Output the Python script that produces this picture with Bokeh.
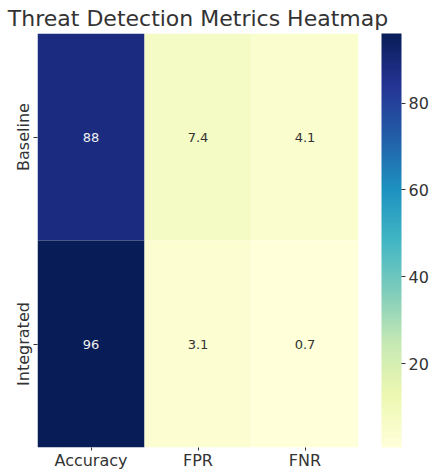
from bokeh.plotting import figure
from bokeh.models import ColumnDataSource, LinearColorMapper, ColorBar, FixedTicker
from bokeh.transform import transform
from bokeh.embed import file_html
from bokeh.resources import INLINE
from bokeh.core.properties import value
import numpy as np

metrics = ["Accuracy", "FPR", "FNR"]
systems = ["Baseline", "Integrated"]
baseline_vals = [88, 7.4, 4.1]
integrated_vals = [96, 3.1, 0.7]
cbar_ticks = [20, 40, 60, 80]

# YlGnBu palette interpolated to 256 steps (light -> dark)
base = ['#ffffd9', '#edf8b1', '#c7e9b4', '#7fcdbb', '#41b6c4', '#1d91c0', '#225ea8', '#253494', '#081d58']
rgb = np.array([[int(c[i:i + 2], 16) for i in (1, 3, 5)] for c in base], dtype=float)
xs = np.linspace(0, 1, len(base))
t = np.linspace(0, 1, 256)
pal = ["#%02x%02x%02x" % tuple(int(round(np.interp(v, xs, rgb[:, k]))) for k in range(3)) for v in t]

xcat, ycat, vals, labels, tcol = [], [], [], [], []
for sys_name, row in zip(systems, [baseline_vals, integrated_vals]):
    for m, v in zip(metrics, row):
        xcat.append(m)
        ycat.append(sys_name)
        vals.append(v)
        labels.append(("%g" % v))
all_vals = baseline_vals + integrated_vals
vmin, vmax = min(all_vals), max(all_vals)
for v in vals:
    tcol.append("#f0f0f0" if (v - vmin) / (vmax - vmin) > 0.5 else "#333333")

src = ColumnDataSource(dict(x=xcat, y=ycat, v=vals, label=labels, tc=tcol))
mapper = LinearColorMapper(palette=pal, low=vmin, high=vmax)

p = figure(x_range=metrics, y_range=list(reversed(systems)),
           width=431, height=472,
           output_backend="svg", toolbar_location=None,
           title="Threat Detection Metrics Heatmap")
p.rect(x="x", y="y", width=1, height=1, source=src,
       fill_color=transform("v", mapper), line_color=None)
p.text(x="x", y="y", text="label", source=src, text_color="tc",
       text_align="center", text_baseline="middle", text_font_size="13px",
       text_font=value("DejaVu Sans"))

p.title.text_font = "DejaVu Sans"
p.title.text_font_size = "22px"
p.title.text_font_style = "normal"
p.title.text_color = "#333333"
p.title.align = "center"
p.title.offset = 0
p.title.standoff = 6

p.grid.visible = False
p.outline_line_color = None
for ax in (p.xaxis, p.yaxis):
    ax.axis_line_color = None
    ax.major_tick_line_color = "#333333"
    ax.major_tick_out = 4
    ax.major_tick_in = 0
    ax.minor_tick_line_color = None
    ax.major_label_text_font = "DejaVu Sans"
    ax.major_label_text_font_size = "16px"
    ax.major_label_text_color = "#333333"
    ax.major_label_standoff = 1
p.xaxis.major_tick_out = 3
p.xaxis.major_label_standoff = 0
p.yaxis.major_label_orientation = "vertical"

cb = ColorBar(color_mapper=mapper, width=20, ticker=FixedTicker(ticks=cbar_ticks),
              major_label_text_font="DejaVu Sans", major_label_text_font_size="16px",
              major_label_text_color="#333333", major_tick_line_color="#333333",
              major_tick_out=4, major_tick_in=0, bar_line_color=None,
              padding=0, location=(23, 0), label_standoff=3)
p.add_layout(cb, "right")

p.min_border_left = 37
p.min_border_right = 68
p.min_border_top = 4
p.min_border_bottom = 22
p.background_fill_color = "white"
p.border_fill_color = "white"

open("out.html", "w").write(file_html(p, INLINE))
